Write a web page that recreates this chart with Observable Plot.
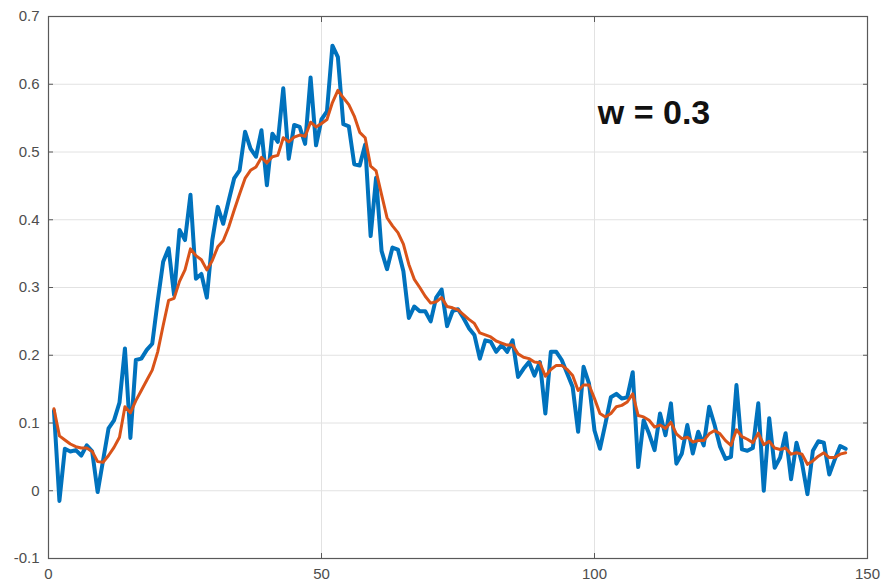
<!DOCTYPE html>
<html>
<head>
<meta charset="utf-8">
<script src="https://cdn.jsdelivr.net/npm/d3@7"></script>
<script src="https://cdn.jsdelivr.net/npm/@observablehq/plot@0.6"></script>
<style>
  html, body { margin: 0; padding: 0; background: #fff; }
  #chart { width: 882px; height: 584px; }
</style>
</head>
<body>
<div id="chart"></div>
<script>
const xTicks = [0, 50, 100, 150];
const yTicks = [-0.1, 0, 0.1, 0.2, 0.3, 0.4, 0.5, 0.6, 0.7];
const annotation = ["w = 0.3"];

// raw signal (blue), sample 1..146
const raw = [
  0.118, -0.015, 0.062, 0.058, 0.060, 0.052, 0.067, 0.058, -0.002, 0.045,
  0.092, 0.104, 0.130, 0.210, 0.078, 0.193, 0.195, 0.208, 0.217, 0.280,
  0.338, 0.358, 0.289, 0.385, 0.370, 0.437, 0.313, 0.320, 0.285, 0.370,
  0.419, 0.394, 0.428, 0.461, 0.473, 0.530, 0.505, 0.493, 0.532, 0.451,
  0.527, 0.515, 0.594, 0.490, 0.540, 0.537, 0.512, 0.610, 0.510, 0.548,
  0.560, 0.657, 0.640, 0.541, 0.538, 0.482, 0.480, 0.511, 0.376, 0.462,
  0.354, 0.327, 0.359, 0.356, 0.324, 0.255, 0.272, 0.265, 0.265, 0.250,
  0.285, 0.297, 0.243, 0.265, 0.268, 0.255, 0.240, 0.230, 0.195, 0.222,
  0.220, 0.205, 0.215, 0.205, 0.222, 0.168, 0.180, 0.190, 0.170, 0.190,
  0.114, 0.205, 0.205, 0.193, 0.173, 0.153, 0.087, 0.183, 0.158, 0.089,
  0.062, 0.099, 0.138, 0.143, 0.136, 0.138, 0.175, 0.035, 0.104, 0.084,
  0.060, 0.114, 0.082, 0.129, 0.040, 0.055, 0.097, 0.055, 0.087, 0.067,
  0.124, 0.097, 0.065, 0.047, 0.050, 0.156, 0.061, 0.059, 0.063, 0.129,
  0.000, 0.107, 0.034, 0.049, 0.085, 0.017, 0.071, 0.041, -0.005, 0.059,
  0.073, 0.071, 0.024, 0.046, 0.066, 0.062
];

// smoothed signal (orange), sample 1..146
const smooth = [
  0.121, 0.081, 0.075, 0.069, 0.065, 0.063, 0.063, 0.058, 0.043, 0.042,
  0.052, 0.064, 0.079, 0.124, 0.115, 0.133, 0.148, 0.163, 0.178, 0.205,
  0.244, 0.281, 0.284, 0.309, 0.326, 0.357, 0.347, 0.341, 0.326, 0.340,
  0.360, 0.369, 0.389, 0.414, 0.438, 0.461, 0.473, 0.478, 0.492, 0.484,
  0.493, 0.495, 0.521, 0.515, 0.522, 0.525, 0.523, 0.544, 0.537, 0.542,
  0.548, 0.573, 0.591, 0.580, 0.570, 0.553, 0.529, 0.521, 0.479, 0.472,
  0.437, 0.403, 0.391, 0.381, 0.364, 0.334, 0.312, 0.300, 0.287, 0.277,
  0.279, 0.285, 0.272, 0.270, 0.267, 0.260, 0.253, 0.247, 0.233, 0.230,
  0.227, 0.221, 0.218, 0.215, 0.215, 0.202, 0.197, 0.195, 0.190, 0.189,
  0.169, 0.179, 0.185, 0.185, 0.179, 0.170, 0.148, 0.156, 0.156, 0.136,
  0.114, 0.109, 0.114, 0.124, 0.126, 0.131, 0.143, 0.111, 0.109, 0.104,
  0.094, 0.097, 0.092, 0.101, 0.084, 0.077, 0.079, 0.072, 0.074, 0.074,
  0.084, 0.089, 0.084, 0.074, 0.067, 0.090, 0.080, 0.076, 0.071, 0.085,
  0.068, 0.073, 0.063, 0.061, 0.063, 0.054, 0.056, 0.054, 0.039, 0.044,
  0.051, 0.056, 0.049, 0.049, 0.054, 0.056
];

const fmtY = d => (Math.abs(d) < 1e-9 ? "0" : d.toFixed(1));
const blank = () => "";
const axisColor = "#4d4d4d";
const frameColor = "#595959";

const chart = Plot.plot({
  width: 882,
  height: 584,
  marginLeft: 48,
  marginRight: 15,
  marginTop: 16,
  marginBottom: 26,
  style: { fontFamily: "'Liberation Sans', Arial, sans-serif", fontSize: "15px", background: "#fff" },
  x: { domain: [0, 150], ticks: xTicks, label: null },
  y: { domain: [-0.1, 0.7], ticks: yTicks, label: null },
  marks: [
    Plot.gridX(xTicks, { stroke: "#e2e2e2", strokeOpacity: 1 }),
    Plot.gridY(yTicks, { stroke: "#e2e2e2", strokeOpacity: 1 }),
    Plot.lineY(raw, { x: (d, i) => i + 1, y: d => d, stroke: "#0072BD", strokeWidth: 4, strokeLinejoin: "round", strokeLinecap: "round" }),
    Plot.lineY(smooth, { x: (d, i) => i + 1, y: d => d, stroke: "#D95319", strokeWidth: 3, strokeLinejoin: "round", strokeLinecap: "round" }),
    Plot.frame({ stroke: frameColor, strokeWidth: 1.2 }),
    Plot.axisX(xTicks, { anchor: "bottom", tickSize: 0, tickPadding: 10, color: axisColor, label: null }),
    Plot.axisY(yTicks, { anchor: "left", tickSize: 0, tickPadding: 9, tickFormat: fmtY, color: axisColor, label: null }),
    Plot.axisX(xTicks, { anchor: "bottom", tickSize: 5, dy: -5, tickFormat: blank, stroke: frameColor, label: null }),
    Plot.axisX(xTicks, { anchor: "top", tickSize: 5, dy: 5, tickFormat: blank, stroke: frameColor, label: null }),
    Plot.axisY(yTicks, { anchor: "left", tickSize: 5, dx: 5, tickFormat: blank, stroke: frameColor, label: null }),
    Plot.axisY(yTicks, { anchor: "right", tickSize: 5, dx: -5, tickFormat: blank, stroke: frameColor, label: null }),
    Plot.text(annotation, { x: 100.6, y: 0.557, text: d => d, textAnchor: "start", lineAnchor: "middle", fontSize: 34, fontWeight: "bold", fill: "#111" })
  ]
});

document.getElementById("chart").appendChild(chart);
</script>
</body>
</html>
